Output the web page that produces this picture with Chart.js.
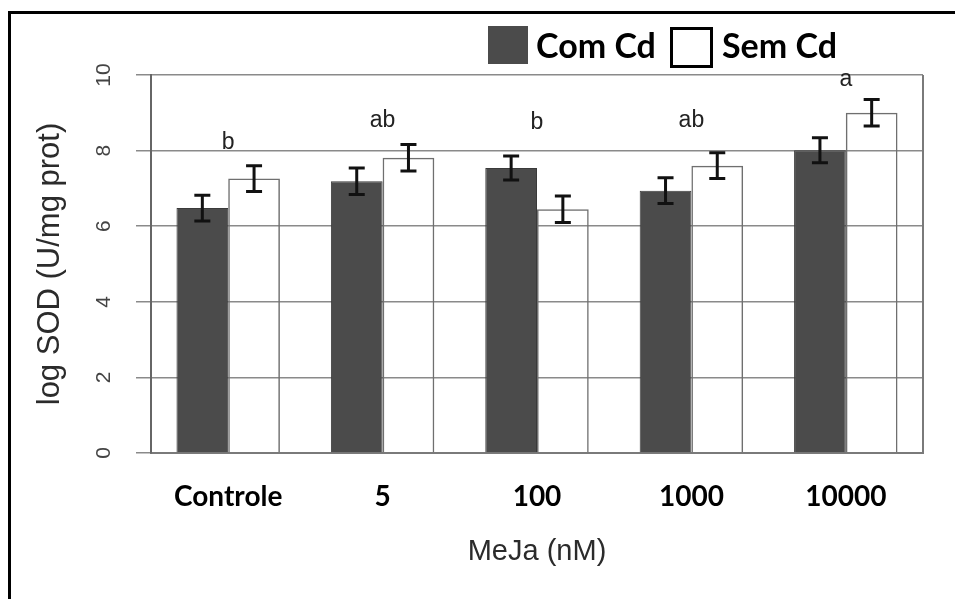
<!DOCTYPE html>
<html>
<head>
<meta charset="utf-8">
<script src="https://cdn.jsdelivr.net/npm/chart.js@4"></script>
<style>
  html, body { margin: 0; padding: 0; background: #fff; }
  #wrap { position: relative; width: 955px; height: 599px; overflow: hidden; }
  #frame { position: absolute; left: 8px; top: 11px; width: 960px; height: 600px;
           border-left: 3px solid #000; border-top: 3px solid #000; }
  .leg { position: absolute; font: bold 34px "Liberation Sans Narrow", "Lato", sans-serif; color: #000; line-height: 1; }
  .box { position: absolute; box-sizing: border-box; }
</style>
</head>
<body>
<div id="wrap">
  <canvas id="chart" width="955" height="599"></canvas>
  <div id="frame"></div>
  <div class="box" style="left:488px;top:26px;width:40px;height:38px;background:#4b4b4b;"></div>
  <div class="leg" style="left:536px;top:28px;">Com Cd</div>
  <div class="box" style="left:670px;top:27px;width:43px;height:41px;border:3px solid #000;background:#fff;"></div>
  <div class="leg" style="left:722px;top:28px;">Sem Cd</div>
</div>
<script>
// dados
const categories = ['Controle', '5', '100', '1000', '10000'];
const comCd = [6.48, 7.19, 7.54, 6.94, 8.01];
const comCdErr = [0.34, 0.35, 0.32, 0.34, 0.33];
const semCd = [7.26, 7.81, 6.45, 7.60, 9.00];
const semCdErr = [0.34, 0.35, 0.35, 0.34, 0.35];
const letters = ['b', 'ab', 'b', 'ab', 'a'];
const letterLevels = [8.21, 8.8, 8.74, 8.8, 9.88];
const yTicks = [0, 2, 4, 6, 8, 10];

// barras de erro, letras e borda direita
const extras = {
  id: 'extras',
  afterDatasetsDraw(chart) {
    const ctx = chart.ctx;
    const y = chart.scales.y;
    const x = chart.scales.x;
    const errs = [comCdErr, semCdErr];
    const vals = [comCd, semCd];

    ctx.save();
    // borda direita da area
    ctx.strokeStyle = '#7a7a7a';
    ctx.lineWidth = 2;
    ctx.beginPath();
    ctx.moveTo(chart.chartArea.right, chart.chartArea.top);
    ctx.lineTo(chart.chartArea.right, chart.chartArea.bottom);
    ctx.stroke();

    ctx.strokeStyle = '#111';
    ctx.lineWidth = 3;
    chart.data.datasets.forEach((ds, di) => {
      chart.getDatasetMeta(di).data.forEach((bar, i) => {
        const top = y.getPixelForValue(vals[di][i] + errs[di][i]);
        const bot = y.getPixelForValue(vals[di][i] - errs[di][i]);
        ctx.beginPath();
        ctx.moveTo(bar.x, top); ctx.lineTo(bar.x, bot);
        ctx.moveTo(bar.x - 8, top); ctx.lineTo(bar.x + 8, top);
        ctx.moveTo(bar.x - 8, bot); ctx.lineTo(bar.x + 8, bot);
        ctx.stroke();
      });
    });

    ctx.fillStyle = '#222';
    ctx.font = '23px "Liberation Sans", Arial, sans-serif';
    ctx.textAlign = 'center';
    ctx.textBaseline = 'middle';
    letters.forEach((t, i) => {
      ctx.fillText(t, x.getPixelForValue(i), y.getPixelForValue(letterLevels[i]));
    });
    ctx.restore();
  }
};

new Chart(document.getElementById('chart'), {
  type: 'bar',
  data: {
    labels: categories,
    datasets: [
      {
        label: 'Com Cd',
        data: comCd,
        backgroundColor: '#4b4b4b',
        borderColor: '#3a3a3a',
        borderWidth: 1,
        categoryPercentage: 0.67,
        barPercentage: 1.0
      },
      {
        label: 'Sem Cd',
        data: semCd,
        backgroundColor: 'rgba(255,255,255,0)',
        borderColor: '#6f6f6f',
        borderWidth: 1.5,
        categoryPercentage: 0.67,
        barPercentage: 1.0
      }
    ]
  },
  options: {
    responsive: false,
    animation: false,
    layout: { padding: { left: 0, top: 75, right: 32, bottom: 0 } },
    plugins: {
      legend: { display: false },
      tooltip: { enabled: false }
    },
    scales: {
      x: {
        grid: { display: false, drawTicks: false },
        border: { display: true, color: '#7a7a7a', width: 2 },
        ticks: {
          color: '#000',
          padding: 27,
          font: { family: '"Liberation Sans Narrow", Lato, sans-serif', weight: 'bold', size: 28 }
        },
        title: {
          display: true,
          text: 'MeJa (nM)',
          color: '#2b2b2b',
          padding: { bottom: 30 },
          font: { family: '"Liberation Sans", Arial, sans-serif', size: 29 }
        },
        afterFit: (s) => { s.height = 146; }
      },
      y: {
        min: 0,
        max: 10,
        grid: { color: '#8a8a8a', lineWidth: 1.5, tickLength: 15, drawTicks: true },
        border: { display: true, color: '#666', width: 2 },
        ticks: {
          stepSize: 2,
          minRotation: 90,
          maxRotation: 90,
          crossAlign: 'center',
          padding: 20,
          color: '#444',
          callback: (v) => yTicks.includes(v) ? v : '',
          font: { family: '"Liberation Sans", Arial, sans-serif', size: 21 }
        },
        title: {
          display: true,
          text: 'log SOD (U/mg prot)',
          color: '#2b2b2b',
          padding: { top: 32 },
          font: { family: '"Liberation Sans", Arial, sans-serif', size: 31 }
        },
        afterFit: (s) => { s.width = 151; }
      }
    }
  },
  plugins: [extras]
});
</script>
</body>
</html>
